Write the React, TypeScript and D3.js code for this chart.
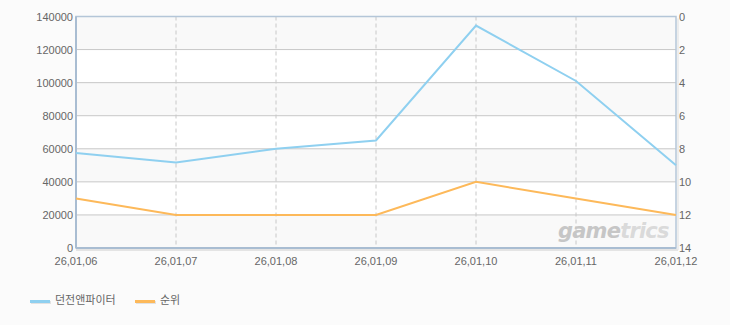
import React from "react";
import * as d3 from "d3";

const categories = ["26,01,06", "26,01,07", "26,01,08", "26,01,09", "26,01,10", "26,01,11", "26,01,12"];
const seriesNames = ["던전앤파이터", "순위"];
const playersValues = [57500, 51700, 60000, 65000, 134500, 101000, 50000];
const rankValues = [11, 12, 12, 12, 10, 11, 12];
const leftTicks = [0, 20000, 40000, 60000, 80000, 100000, 120000, 140000];
const rightTicks = [0, 2, 4, 6, 8, 10, 12, 14];

const W = 730, H = 325;
const L = 76, R = 676, T = 16.5, B = 248;
const FONT = "'Liberation Sans', Arial, sans-serif";

export default function App() {
  const x = d3.scalePoint<string>().domain(categories).range([L, R]);
  const yL = d3.scaleLinear().domain([0, 140000]).range([B, T]);
  const yR = d3.scaleLinear().domain([0, 14]).range([T, B]);
  const line1 = d3.line<number>().x((_, i) => x(categories[i])!).y((d) => yL(d));
  const line2 = d3.line<number>().x((_, i) => x(categories[i])!).y((d) => yR(d));
  const bands = leftTicks.slice(0, -1).map((t, i) => ({ y0: yL(leftTicks[i + 1]), y1: yL(t), shade: i % 2 === 0 }));
  const colors = ["#8fd0f0", "#fdb95a"];

  return (
    <svg width={W} height={H} style={{ position: "absolute", left: 0, top: 0 }} fontFamily={FONT}>
      <rect x={0} y={0} width={W} height={H} fill="#fbfbfb" />
      {bands.map((b, i) => (
        <rect key={i} x={L} y={b.y0} width={R - L} height={b.y1 - b.y0} fill={b.shade ? "#f9f9f9" : "#ffffff"} />
      ))}
      {leftTicks.slice(1, -1).map((t) => (
        <line key={t} x1={L} x2={R} y1={yL(t)} y2={yL(t)} stroke="#c8c8c8" strokeWidth={1} />
      ))}
      {categories.slice(1, -1).map((c) => (
        <line key={c} x1={x(c)} x2={x(c)} y1={T} y2={B} stroke="#c8c8c8" strokeDasharray="4,3" strokeWidth={1} />
      ))}
      {/* shadow */}
      <line x1={L} x2={R + 2} y1={B + 2} y2={B + 2} stroke="#e4e4e4" strokeWidth={2} />
      <line x1={R + 2} x2={R + 2} y1={T + 2} y2={B + 2} stroke="#e8e8e8" strokeWidth={1.5} />
      {/* border */}
      <rect x={L} y={T} width={R - L} height={B - T} fill="none" stroke="#b4c6d8" strokeWidth={1.5} />
      <line x1={L} x2={L} y1={T} y2={B} stroke="#a9bdd2" strokeWidth={2} />
      <line x1={L} x2={R} y1={B} y2={B} stroke="#a9bdd2" strokeWidth={2} />

      {/* watermark */}
      <text x={558} y={238} fontSize={21} fontWeight="bold" fontStyle="italic" fontFamily="'DejaVu Sans', sans-serif" letterSpacing={-0.8}>
        <tspan fill="#c6c6c6">game</tspan>
        <tspan fill="#dadada">trics</tspan>
      </text>

      <path d={line1(playersValues)!} fill="none" stroke={colors[0]} strokeWidth={2} />
      <path d={line2(rankValues)!} fill="none" stroke={colors[1]} strokeWidth={2} />

      {leftTicks.map((t) => (
        <text key={t} x={L - 3} y={yL(t) + 4} textAnchor="end" fontSize={11} fill="#666">{t}</text>
      ))}
      {rightTicks.map((t) => (
        <text key={t} x={R + 3} y={yR(t) + 4} textAnchor="start" fontSize={11} fill="#666">{t}</text>
      ))}
      {categories.map((c) => (
        <text key={c} x={x(c)} y={265} textAnchor="middle" fontSize={11} fill="#666">{c}</text>
      ))}

      {seriesNames.map((n, i) => {
        const lx = i === 0 ? 30 : 135;
        return (
          <g key={n}>
            <rect x={lx + 1} y={301} width={20} height={3} fill="#e2e2e2" />
            <rect x={lx} y={300} width={20} height={3} fill={colors[i]} />
            <text x={lx + 25} y={304} fontSize={11} fill="#666" fontFamily="'Noto Sans CJK KR', sans-serif">{n}</text>
          </g>
        );
      })}
    </svg>
  );
}
